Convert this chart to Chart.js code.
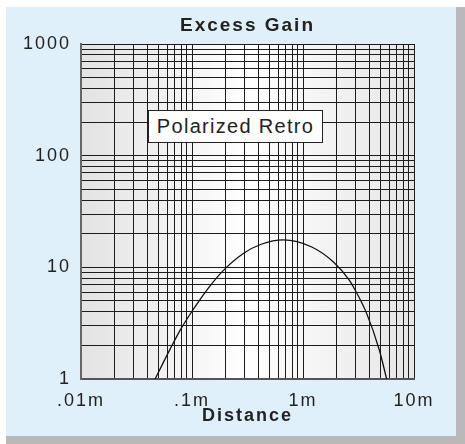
<!DOCTYPE html>
<html>
<head>
<meta charset="utf-8">
<script src="https://cdn.jsdelivr.net/npm/chart.js@4/dist/chart.umd.min.js"></script>
<style>
  body { margin: 0; background: #fff; width: 465px; height: 444px; position: relative; overflow: hidden; }
  #panel { position: absolute; left: 6px; top: 7px; width: 450px; height: 429px; background: #dff0fa;
           border-right: 9px solid #b9b9bb; border-bottom: 8px solid #b9b9bb; }
  #chart { position: absolute; left: 0; top: 0; }
  #note { position: absolute; left: 148px; top: 110px; width: 173px; height: 31px; background: #fff;
          border: 1px solid #222; font: 20px 'Liberation Sans', Arial, sans-serif; letter-spacing: 1.3px;
          color: #222; text-align: center; line-height: 31px; }
</style>
</head>
<body>
<div id="panel"></div>
<canvas id="chart" width="465" height="444"></canvas>
<div id="note">Polarized Retro</div>
<script>
'use strict'
// curve (distance in m, excess gain)
const distance = [0.0465, 0.064, 0.079, 0.096, 0.118, 0.145, 0.19, 0.29, 0.42, 0.665, 1.2, 1.87, 2.61, 2.84, 3.75, 4.87, 5.67];
const gain = [1, 1.88, 2.78, 3.8, 5.15, 6.8, 9.3, 13.3, 16.1, 17.6, 15.2, 11.2, 7.7, 6.7, 3.85, 1.82, 1];

const xMajor = [0.01, 0.1, 1, 10];
const xLabels = ['.01m', '.1m', '1m', '10m'];
const yMajor = [1, 10, 100, 1000];
const yLabels = ['1', '10', '100', '1000'];

// grid: 1..9 in every decade
function decadeTicks(major) {
    const out = [];
    for (let i = 0; i < major.length - 1; i++) {
        for (let k = 1; k < 10; k++) out.push(k * major[i]);
    }
    out.push(major[major.length - 1]);
    return out.map(v => ({value: v}));
}
function labelFor(value, major, labels) {
    const i = major.findIndex(m => Math.abs(value - m) / m < 1e-6);
    return i < 0 ? '' : labels[i];
}

Chart.defaults.font.family = "'Liberation Sans', Arial, sans-serif";
Chart.defaults.color = '#222';

const plotBg = {
    id: 'plotBg',
    beforeDraw(chart) {
        const {ctx, chartArea: a} = chart;
        ctx.letterSpacing = '2px';
        const g = ctx.createLinearGradient(a.left, 0, a.right, 0);
        g.addColorStop(0, '#e3e3e3');
        g.addColorStop(0.5, '#ffffff');
        g.addColorStop(1, '#e6e6e6');
        ctx.save();
        ctx.fillStyle = g;
        ctx.fillRect(a.left, a.top, a.right - a.left, a.bottom - a.top);
        ctx.restore();
    }
};

const gridOpts = {color: '#1c1c1c', lineWidth: 1, drawTicks: false};

new Chart(document.getElementById('chart'), {
    type: 'line',
    data: {
        datasets: [{
            data: distance.map((d, i) => ({x: d, y: gain[i]})),
            borderColor: '#111',
            borderWidth: 1.3,
            pointRadius: 0,
            cubicInterpolationMode: 'monotone',
            fill: false
        }]
    },
    options: {
        responsive: false,
        animation: false,
        devicePixelRatio: 1,
        layout: {padding: {left: 0, right: 51, top: 0, bottom: 0}},
        plugins: {
            legend: {display: false},
            tooltip: {enabled: false},
            title: {
                display: true,
                text: 'Excess Gain',
                fullSize: false,
                color: '#222',
                font: {size: 19, weight: 'bold'},
                padding: {top: 14.6, bottom: 6.6}
            }
        },
        scales: {
            x: {
                type: 'logarithmic',
                min: 0.01,
                max: 10,
                afterBuildTicks: s => { s.ticks = decadeTicks(xMajor); },
                afterFit: s => { s.height = 65; },
                grid: gridOpts,
                border: {color: '#555', width: 2},
                ticks: {
                    autoSkip: false, maxRotation: 0, minRotation: 0, padding: 11,
                    font: {size: 18},
                    callback: v => labelFor(v, xMajor, xLabels)
                },
                title: {
                    display: true, text: 'Distance', color: '#222',
                    font: {size: 18, weight: 'bold'},
                    padding: {top: 0, bottom: 16.7}
                }
            },
            y: {
                type: 'logarithmic',
                min: 1,
                max: 1000,
                afterBuildTicks: s => { s.ticks = decadeTicks(yMajor); },
                afterFit: s => { s.width = 81; },
                grid: gridOpts,
                border: {color: '#666', width: 2},
                ticks: {
                    autoSkip: false, padding: 10,
                    font: {size: 18},
                    callback: v => labelFor(v, yMajor, yLabels)
                }
            }
        }
    },
    plugins: [plotBg]
});
</script>
</body>
</html>
